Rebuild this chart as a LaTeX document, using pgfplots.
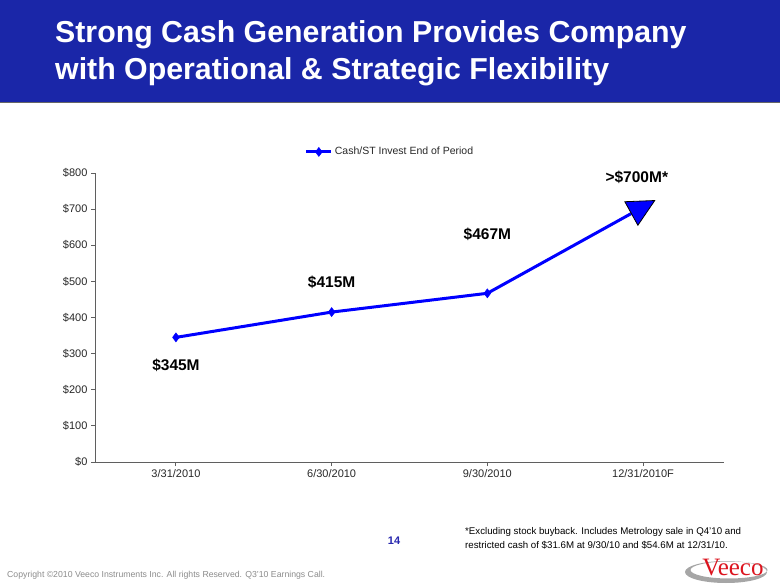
\documentclass[border=0pt]{standalone}
\usepackage{fontspec}
\setmainfont{Liberation Sans}
\newfontfamily\logofont{Liberation Serif}
\usepackage{pgfplots}
\pgfplotsset{compat=1.18}
\usetikzlibrary{arrows.meta}
\definecolor{banner}{RGB}{26,38,168}
\definecolor{lineblue}{RGB}{0,0,255}
\definecolor{ticktext}{RGB}{40,40,40}
\definecolor{axisgray}{RGB}{95,95,95}
\definecolor{pagenum}{RGB}{40,40,175}
\definecolor{logored}{RGB}{220,20,30}
\begin{document}
\begin{tikzpicture}
\useasboundingbox (0,0) rectangle (780pt,-585pt);
\fill[white] (0,0) rectangle (780pt,-585pt);
\fill[banner] (0,0) rectangle (780pt,-103pt);
\draw[black!60, line width=1pt] (0,-103pt) -- (780pt,-103pt);
\node[anchor=base west, font=\bfseries\fontsize{30.3}{36}\selectfont, text=white, inner sep=0pt] at (55pt,-43pt) {Strong Cash Generation Provides Company};
\node[anchor=base west, font=\bfseries\fontsize{30.3}{36}\selectfont, text=white, inner sep=0pt] at (55pt,-80pt) {with Operational \& Strategic Flexibility};

\begin{axis}[
  at={(95pt,-462pt)}, anchor=south west,
  scale only axis, width=629pt, height=289pt,
  xmin=-0.52, xmax=3.52, ymin=0, ymax=800,
  axis x line=bottom, axis y line=left,
  axis line style={-, axisgray, line width=1pt},
  xtick={0,1,2,3},
  xticklabels={3/31/2010,6/30/2010,9/30/2010,12/31/2010F},
  ytick={0,100,200,300,400,500,600,700,800},
  yticklabel={\$\pgfmathprintnumber{\tick}},
  /pgf/number format/assume math mode=true,
  tick align=outside, major tick length=4pt,
  tick style={axisgray, line width=1pt},
  ticklabel style={font=\fontsize{11}{13}\selectfont, text=ticktext},
  legend style={at={(0.469,1.073)}, anchor=center, draw=none, fill=none,
    font=\fontsize{10.5}{12}\selectfont, text=ticktext},
  legend image code/.code={\draw[mark repeat=2,mark phase=2,#1] plot coordinates {(0pt,0pt) (12.5pt,0pt) (25pt,0pt)};},
  clip=false,
]
\addplot[lineblue, line width=3pt, mark=diamond*, mark size=4.5pt, mark options={solid, line width=0.5pt}]
  coordinates {(0,345) (1,415) (2,467)};
\addlegendentry{Cash/ST Invest End of Period}
\addplot[lineblue, line width=3pt, forget plot,
  -{Triangle[length=28pt,width=28pt,fill=lineblue,color=black,line width=0.8pt]}]
  coordinates {(2,467) (3.08,725)};
\node[font=\bfseries\fontsize{15.5}{18}\selectfont] at (axis cs:0,268) {\$345M};
\node[font=\bfseries\fontsize{15.5}{18}\selectfont] at (axis cs:1,498) {\$415M};
\node[font=\bfseries\fontsize{15.5}{18}\selectfont] at (axis cs:2,631) {\$467M};
\node[font=\bfseries\fontsize{15.5}{18}\selectfont] at (axis cs:2.96,789) {>\$700M*};
\end{axis}

\node[anchor=base west, inner sep=0pt, font=\fontsize{9.7}{12}\selectfont] at (465pt,-534pt) {*Excluding stock buyback. Includes Metrology sale in Q4'10 and};
\node[anchor=base west, inner sep=0pt, font=\fontsize{9.7}{12}\selectfont] at (465pt,-548pt) {restricted cash of \$31.6M at 9/30/10 and \$54.6M at 12/31/10.};
\node[anchor=base, inner sep=0pt, font=\bfseries\fontsize{11}{13}\selectfont, text=pagenum] at (394pt,-544pt) {14};
\node[anchor=base west, inner sep=0pt, font=\fontsize{8.7}{11}\selectfont, text=black!45] at (7pt,-577pt) {Copyright ©2010 Veeco Instruments Inc. All rights Reserved. Q3'10 Earnings Call.};
\fill[black!35, even odd rule] (726pt,-572pt) ellipse [x radius=41pt, y radius=11pt]
  (729pt,-570pt) ellipse [x radius=38.5pt, y radius=8.5pt];
\node[anchor=base, inner sep=0pt, font=\logofont\fontsize{25}{28}\selectfont, text=logored] at (733pt,-576pt) {Veeco};
\end{tikzpicture}
\end{document}
